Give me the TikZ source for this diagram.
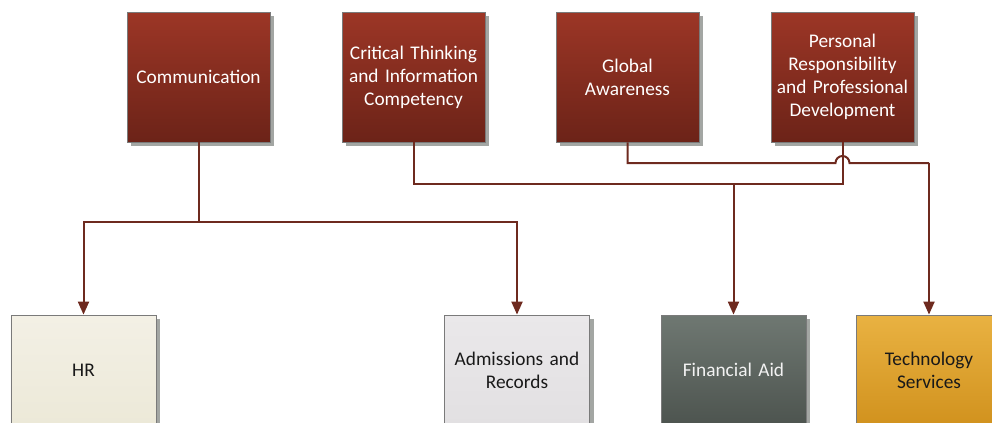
\documentclass[tikz,border=0pt]{standalone}
\usepackage{fontspec}
\setmainfont{Carlito}
\usetikzlibrary{arrows.meta,shadows}
\definecolor{redtop}{HTML}{9C3626}
\definecolor{redbot}{HTML}{6C2318}
\definecolor{linec}{HTML}{6E2A1F}
\definecolor{shadowc}{HTML}{A3A6A3}
\definecolor{borderc}{HTML}{7A7A7A}
\definecolor{hrtop}{HTML}{F3F0E5}
\definecolor{hrbot}{HTML}{ECE9D8}
\definecolor{admtop}{HTML}{EAE8EA}
\definecolor{admbot}{HTML}{E2E0E2}
\definecolor{fintop}{HTML}{6F7872}
\definecolor{finbot}{HTML}{4D544F}
\definecolor{tectop}{HTML}{E9B242}
\definecolor{tecbot}{HTML}{D1921E}
\begin{document}
\begin{tikzpicture}[x=1bp,y=-1bp,
  box/.style={draw=borderc,line width=0.8bp,minimum width=143bp,minimum height=130bp,
    inner sep=2bp,align=center,text width=139bp,
    font=\fontsize{19.4}{23}\selectfont,
    drop shadow={shadow xshift=4bp,shadow yshift=-4bp,fill=shadowc,opacity=1}},
  topbox/.style={box,top color=redtop,bottom color=redbot,text=white},
  botbox/.style={box,minimum width=145bp,minimum height=110bp},
  conn/.style={draw=linec,line width=2bp},
  arr/.style={conn,-{Triangle[width=11bp,length=13bp]}}]
\useasboundingbox (0,0) rectangle (992,422);
\begin{scope}
\clip (0,0) rectangle (992,422);
\node[topbox] (comm) at (198.5,77) {Communication};
\node[topbox] (crit) at (413.5,77) {Critical Thinking\\and Information\\Competency};
\node[topbox] (glob) at (627.5,77) {Global\\Awareness};
\node[topbox] (pers) at (842.5,77) {Personal\\Responsibility\\and Professional\\Development};

\node[botbox,top color=hrtop,bottom color=hrbot,text=black!90] (hr) at (83.5,370) {HR};
\node[botbox,top color=admtop,bottom color=admbot,text=black!90] (adm) at (517,370) {Admissions and\\Records};
\node[botbox,top color=fintop,bottom color=finbot,text=white!95!black] (fin) at (733.5,370) {Financial Aid};
\node[botbox,top color=tectop,bottom color=tecbot,text=black!90] (tec) at (929,370) {Technology\\Services};

\coordinate (j1) at (198.5,222);
\draw[conn] (comm.south) -- (j1);
\draw[arr] (j1) -| (hr.north);
\draw[arr] (j1) -| (adm.north);

\coordinate (j2) at (413.5,184);
\coordinate (j3) at (733.5,184);
\coordinate (j4) at (842.5,184);
\draw[conn] (crit.south) -- (j2) -- (j4) -- (pers.south);
\draw[arr] (j3) -- (fin.north);

\coordinate (g1) at (627.5,163);
\coordinate (h1) at (835.5,163);
\coordinate (g2) at (929,163);
\draw[conn] (glob.south) -- (g1) -- (h1) arc[start angle=180,end angle=360,radius=7] -- (g2);
\draw[arr] (g2) -- (tec.north);
\end{scope}
\end{tikzpicture}
\end{document}
